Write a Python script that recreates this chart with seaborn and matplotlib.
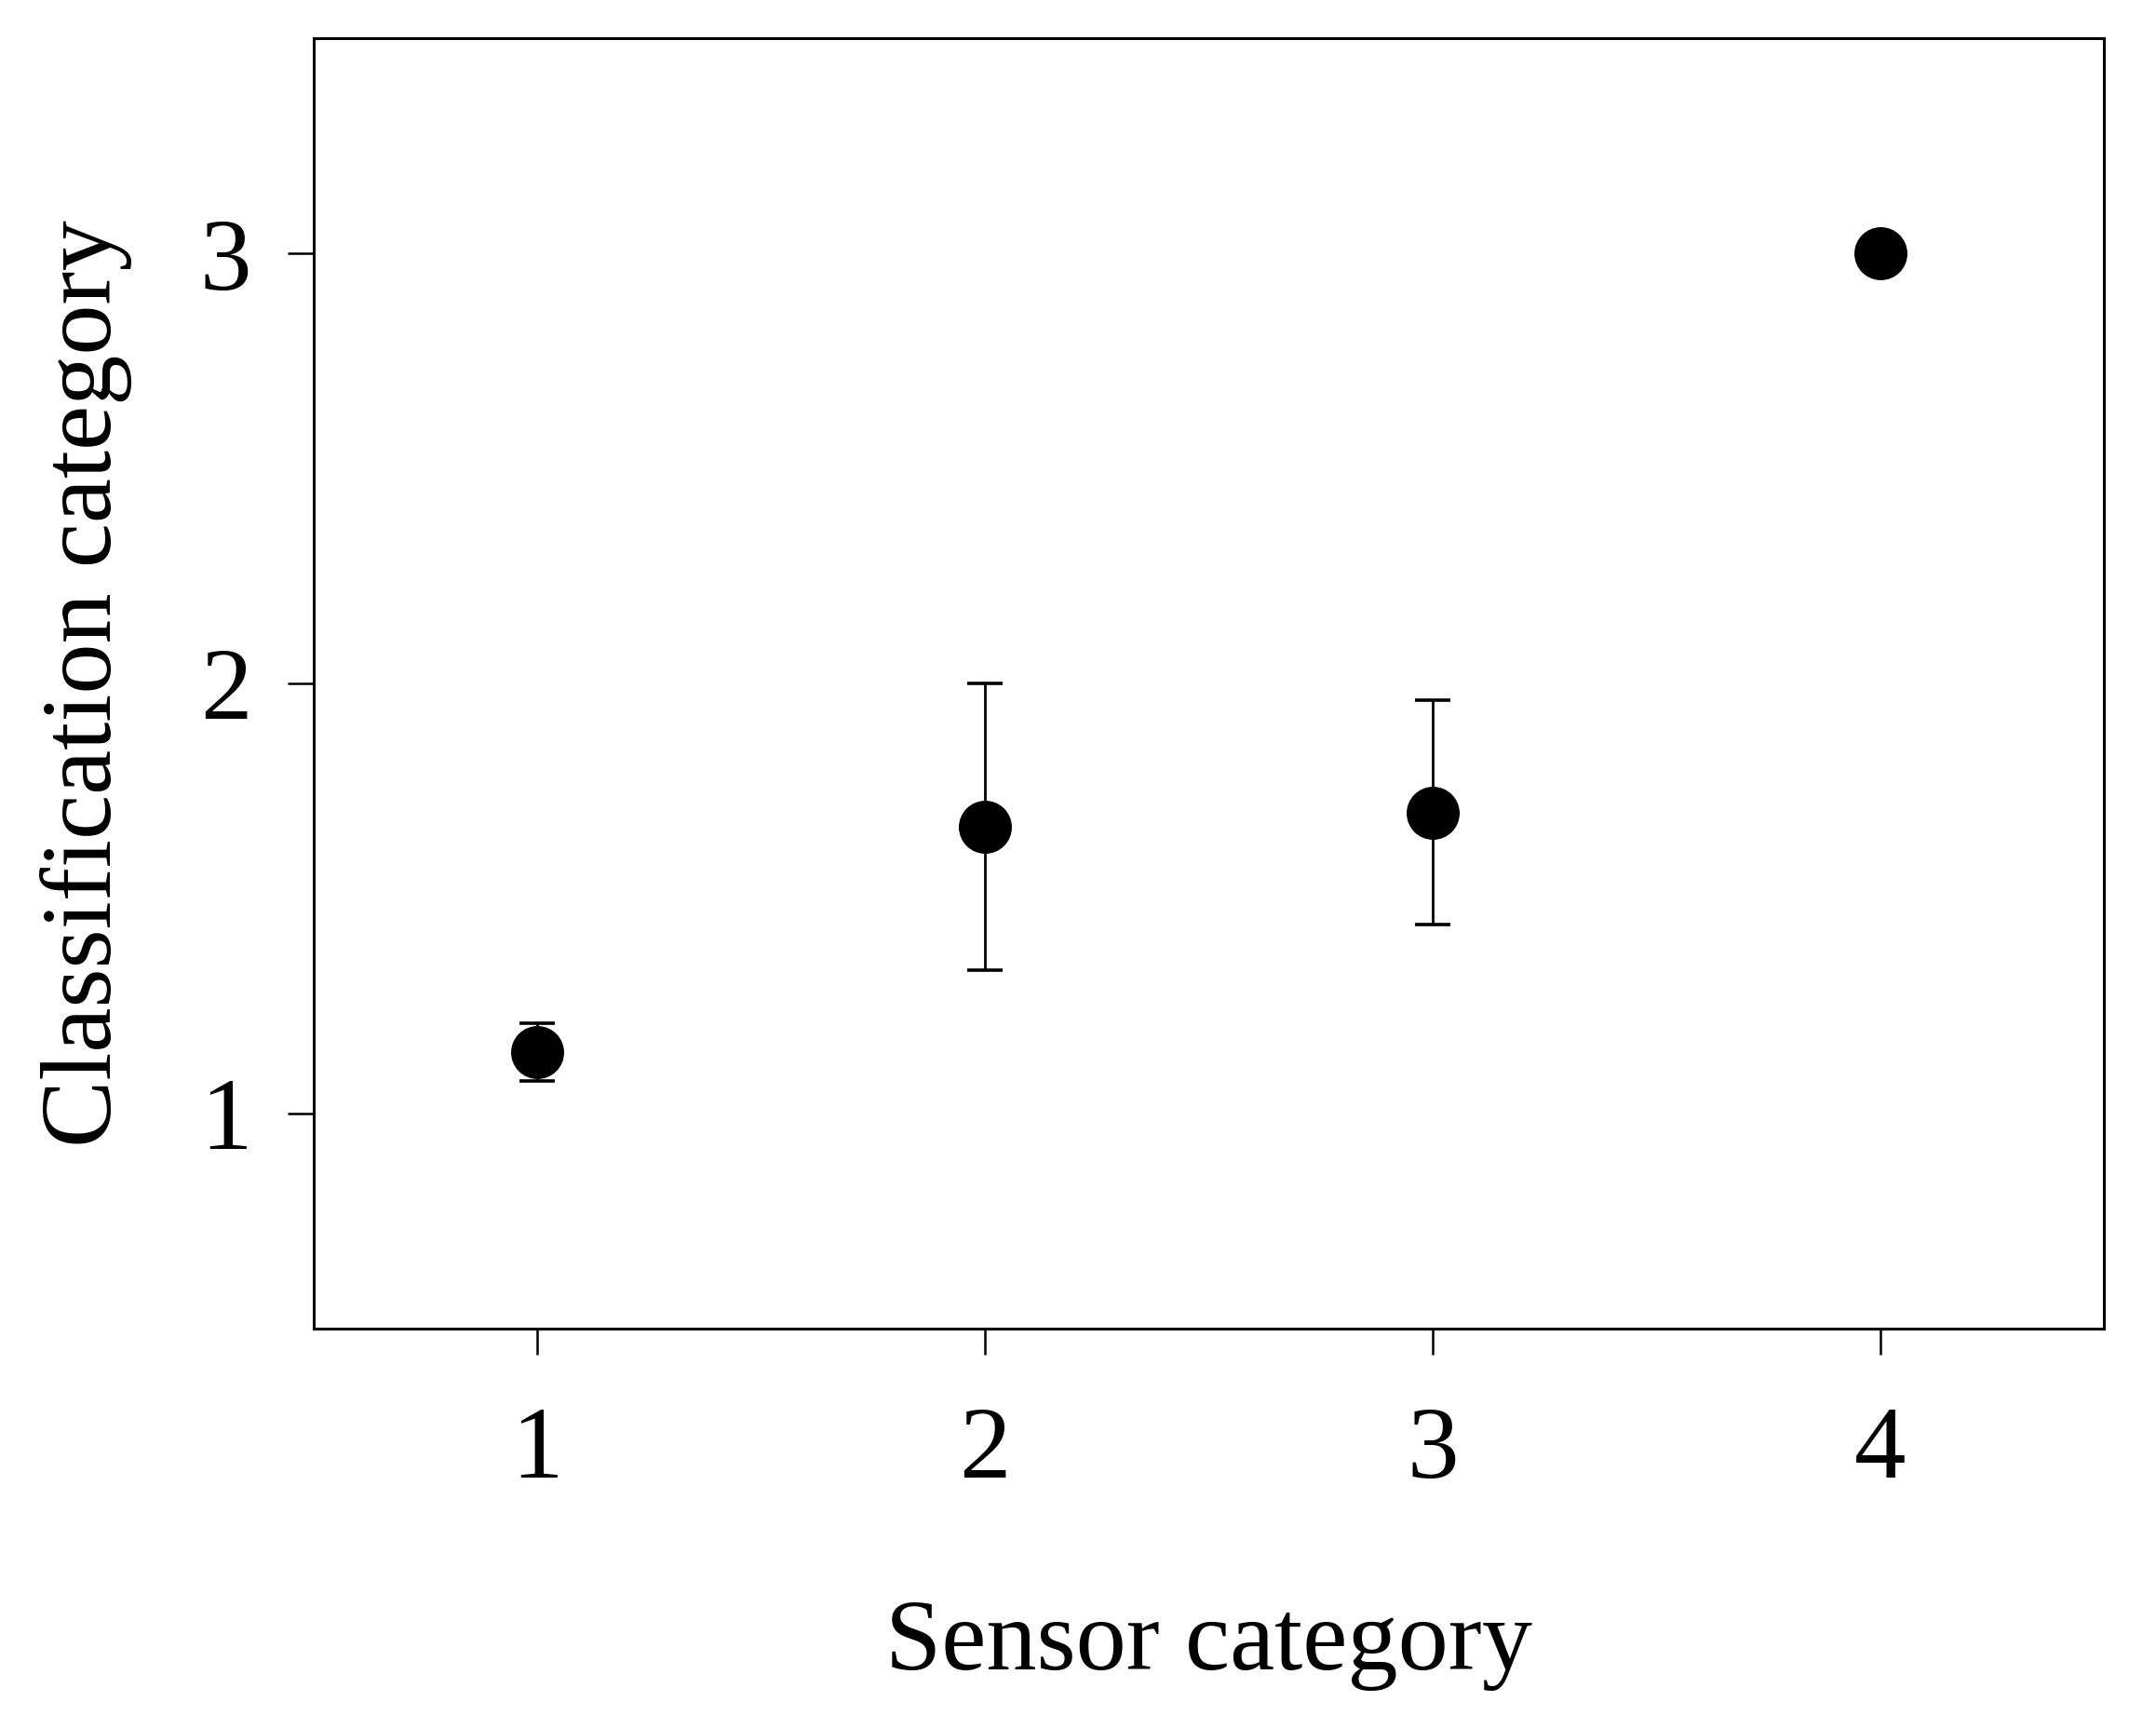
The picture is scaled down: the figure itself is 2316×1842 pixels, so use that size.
import numpy as np
import pandas as pd
import seaborn as sns
import matplotlib.pyplot as plt

# sensor category vs mean classification category (+/- error)
sensor_cat = [1, 2, 3, 4]
class_mean = [1.143, 1.667, 1.70, 3.0]
class_err = [0.068, 0.333, 0.261, 0.0]

df = pd.DataFrame({"sensor": sensor_cat, "classif": class_mean, "err": class_err})

sns.set_style("ticks")
plt.rcParams["font.family"] = ["Liberation Serif", "DejaVu Serif"]
plt.rcParams["text.color"] = "black"
plt.rcParams["axes.labelcolor"] = "black"
plt.rcParams["xtick.color"] = "black"
plt.rcParams["ytick.color"] = "black"

fig = plt.figure(figsize=(23.16, 18.42), dpi=100)
ax = fig.add_axes([0.1455, 0.2253, 0.8303, 0.7522])

# error bars first (only where there is an error), markers on top
eb = df[df["err"] > 0]
ax.errorbar(eb["sensor"], eb["classif"], yerr=eb["err"], fmt="none",
            ecolor="black", elinewidth=2.0, capsize=13.5, capthick=2.6, zorder=2)
sns.scatterplot(data=df, x="sensor", y="classif", ax=ax, color="black",
                s=41 ** 2, edgecolor="black", linewidth=0, zorder=3, legend=False)

ax.set_xlim(0.5, 4.5)
ax.set_ylim(0.5, 3.5)
ax.set_xticks(sensor_cat)
ax.set_yticks([1, 2, 3])

for s in ax.spines.values():
    s.set_visible(True)
    s.set_linewidth(2.2)
    s.set_color("black")

ax.tick_params(axis="both", direction="out", length=20, width=1.8,
               color="black", labelcolor="black", labelsize=80)
ax.tick_params(axis="x", pad=40)
ax.tick_params(axis="y", pad=28)

ax.set_xlabel("Sensor category", fontsize=78, labelpad=78, color="black")
ax.set_ylabel("Classification category", fontsize=78, labelpad=52, color="black")

fig.savefig("out.png", dpi=100)
